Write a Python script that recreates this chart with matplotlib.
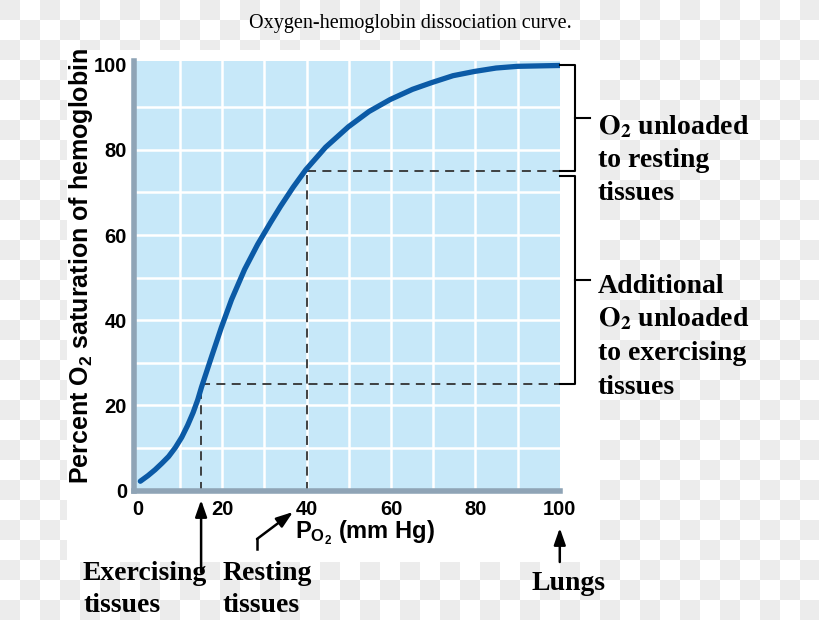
import matplotlib
matplotlib.use("Agg")
import matplotlib.pyplot as plt
import numpy as np

plt.rcParams['mathtext.fontset'] = 'custom'
plt.rcParams['mathtext.bf'] = 'Liberation Sans:bold'
plt.rcParams['mathtext.rm'] = 'Liberation Sans:bold'

# curve: PO2 (mm Hg) vs % saturation
po2 = [0.6, 2.4, 4.1, 5.7, 7.3, 8.9, 10.4, 11.8, 13.1, 14.2, 15.1, 16.3, 17.5, 19.8, 22.2,
       25.3, 28.4, 31.5, 33.8, 36.8, 39.8, 44.5, 49.9, 54.8, 59.8, 65.1, 69.7, 74.7,
       79.8, 84.9, 90, 100]
saturation = [2.2, 3.5, 4.9, 6.4, 8.0, 10.1, 12.5, 15.3, 18.3, 21.3, 24.3, 27.9, 31.5,
              38.3, 44.8, 51.9, 57.8, 63.0, 66.7, 71.2, 75.3, 80.6, 85.4, 89.0, 91.8,
              94.2, 95.8, 97.4, 98.4, 99.2, 99.6, 99.8]

x_ticks = [0, 20, 40, 60, 80, 100]
y_ticks = [0, 20, 40, 60, 80, 100]

exercise_po2, exercise_sat = 15, 25
rest_po2, rest_sat = 40, 75
lungs_po2, lungs_sat = 100, 100

W, H = 820, 620


def px(x, y):
    # image pixel (top-left origin) -> figure fraction
    return x / W, 1 - y / H


fig = plt.figure(figsize=(W / 100, H / 100), dpi=100)

# faint checkerboard from the transparent source, white card behind the chart
yy, xx = np.mgrid[0:H, 0:W]
board = np.where((xx // 20 + yy // 20) % 2 == 0, 0.925, 1.0)
board[(xx >= 67) & (xx < 600) & (yy >= 50) & (yy < 562)] = 1.0
fig.figimage(board, cmap='gray', vmin=0, vmax=1, zorder=-1)

ax = fig.add_axes([134 / W, 1 - 490.6 / H, 426 / W, 429.6 / H])
ax.set_xlim(-0.9, 100.05)
ax.set_ylim(0, 100.85)
ax.set_facecolor('#c7e8f9')

for g in range(10, 100, 10):
    ax.axvline(g, color='white', lw=1.8, zorder=1)
    ax.axhline(g, color='white', lw=1.8, zorder=1)

for s in ['top', 'right']:
    ax.spines[s].set_visible(False)
for s in ['left', 'bottom']:
    ax.spines[s].set_color('#8fa4b6')
    ax.spines[s].set_linewidth(4)

ax.set_xticks(x_ticks)
ax.set_yticks(y_ticks)
ax.tick_params(length=0)
ax.tick_params(axis='x', pad=6.5)
ax.tick_params(axis='y', pad=5)
for lab in ax.get_xticklabels() + ax.get_yticklabels():
    lab.set_fontfamily('Liberation Sans')
    lab.set_fontweight('bold')
    lab.set_fontsize(14.5)

# dashed guides
dash = dict(color='#333333', lw=1.3, dashes=(5, 3.5), zorder=2)
ax.plot([exercise_po2, exercise_po2], [0, exercise_sat], **dash)
ax.plot([exercise_po2, lungs_po2], [exercise_sat, exercise_sat], **dash)
ax.plot([rest_po2, rest_po2], [0, rest_sat], **dash)
ax.plot([rest_po2, lungs_po2], [rest_sat, rest_sat], **dash)

ax.plot(po2, saturation, color='#0b5aa6', lw=3.8, solid_capstyle='round',
        solid_joinstyle='round', zorder=3)

# brackets on the right
bx, tip = 103.7, 107.2
br = dict(color='black', lw=1.5, clip_on=False, zorder=4)
for top, bottom in [(lungs_sat, rest_sat), (rest_sat - 1.2, exercise_sat)]:
    ax.plot([lungs_po2, bx, bx, lungs_po2], [top, top, bottom, bottom], **br)
    mid = (top + bottom) / 2
    ax.plot([bx, tip], [mid, mid], **br)

serif = dict(family='Liberation Serif', weight='bold', size=20, math_fontfamily='stix')
right_lines = [
    (r'$\mathbf{O_2}$ unloaded', 134),
    ('to resting', 167),
    ('tissues', 200),
    ('Additional', 293),
    (r'$\mathbf{O_2}$ unloaded', 326.5),
    ('to exercising', 360),
    ('tissues', 394),
]
for txt, yb in right_lines:
    fig.text(*px(598, yb), txt, ha='left', va='baseline', **serif)

bottom_lines = [
    ('Exercising', 83, 580),
    ('tissues', 83, 612),
    ('Resting', 223, 580),
    ('tissues', 223, 612),
    ('Lungs', 532, 590),
]
for txt, xl, yb in bottom_lines:
    fig.text(*px(xl, yb), txt, ha='left', va='baseline', **serif)

fig.text(*px(410, 28), 'Oxygen-hemoglobin dissociation curve.', ha='center',
         va='baseline', family='Liberation Serif', size=14.5)

fig.text(*px(81, 266), r'Percent $\mathbf{O_2}$ saturation of hemoglobin', rotation=90,
         ha='center', va='center', family='Liberation Sans', weight='bold', size=18,
         math_fontfamily='custom')
fig.text(*px(295, 538), r'$\mathbf{P_{O_2}}$ (mm Hg)', ha='left', va='baseline',
         family='Liberation Sans', weight='bold', size=17, math_fontfamily='custom')

# arrows under the axis
arrow = dict(arrowstyle='-|>,head_length=1.0,head_width=0.35', lw=1.8, color='black',
             shrinkA=0, shrinkB=0)
ax.annotate('', xy=(exercise_po2, H - 500), xytext=(exercise_po2, H - 572),
            xycoords=('data', 'figure pixels'), textcoords=('data', 'figure pixels'),
            arrowprops=arrow, annotation_clip=False)
ax.annotate('', xy=(lungs_po2, H - 528), xytext=(lungs_po2, H - 562),
            xycoords=('data', 'figure pixels'), textcoords=('data', 'figure pixels'),
            arrowprops=arrow, annotation_clip=False)
fig.add_artist(plt.Line2D([257 / W, 257 / W], [1 - 549 / H, 1 - 539 / H], color='black', lw=1.8))
ax.annotate('', xy=(293, H - 512), xytext=(257, H - 539), xycoords='figure pixels',
            textcoords='figure pixels', arrowprops=arrow, annotation_clip=False)

fig.savefig('out.png', dpi=100)
